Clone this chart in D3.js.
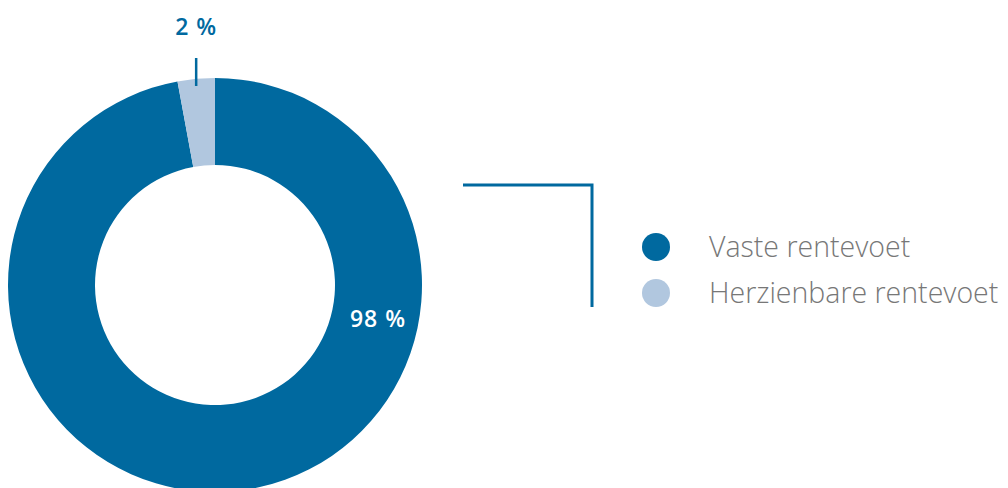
<!DOCTYPE html>
<html>
<head>
<meta charset="utf-8">
<script src="https://cdn.jsdelivr.net/npm/d3@7"></script>
<style>
  body { margin: 0; background: #fff; }
  text { font-family: "Open Sans", Lato, sans-serif; }
</style>
</head>
<body>
<script>
// Chart data.
const categories = ['Vaste rentevoet', 'Herzienbare rentevoet']
const shares = [97.1, 2.9]
const labels = ['98 %', '2 %']
const colors = ['#00699f', '#b1c7df']

const width = 1008
const height = 488
const cx = 215
const cy = 285
const outerR = 207
const innerR = 120

const svg = d3.select('body')
  .append('svg')
    .attr('width', width)
    .attr('height', height)

const g = svg.append('g')
    .attr('transform', `translate(${cx}, ${cy})`)

const pie = d3.pie().sort(null).value(d => d)
const arcs = pie(shares)
const arc = d3.arc().innerRadius(innerR).outerRadius(outerR)

// Draw slices.
g.selectAll('path.slice')
  .data(arcs)
  .enter().append('path')
    .attr('class', 'slice')
    .attr('d', arc)
    .attr('fill', (d, i) => colors[i])

// Label of the big slice, inside the ring on the right.
g.append('text')
    .attr('x', 163)
    .attr('y', 42)
    .attr('text-anchor', 'middle')
    .attr('fill', '#fff')
    .attr('font-weight', 600)
    .attr('font-size', 23)
    .attr('letter-spacing', 1)
    .text(labels[0])

// Label and vertical leader line of the small slice.
const small = arcs[1]
const mid = (small.startAngle + small.endAngle) / 2
const lx = Math.sin(mid) * outerR
g.append('line')
    .attr('x1', lx)
    .attr('y1', -outerR + 8)
    .attr('x2', lx)
    .attr('y2', -outerR - 20)
    .attr('stroke', colors[0])
    .attr('stroke-width', 2.5)
g.append('text')
    .attr('x', lx)
    .attr('y', 35 - cy)
    .attr('text-anchor', 'middle')
    .attr('fill', colors[0])
    .attr('font-weight', 600)
    .attr('font-size', 23)
    .attr('letter-spacing', 1)
    .text(labels[1])

// Bracket line between chart and legend.
svg.append('path')
    .attr('d', 'M463,185 H592 V307')
    .attr('fill', 'none')
    .attr('stroke', colors[0])
    .attr('stroke-width', 3)

// Legend.
const legend = svg.selectAll('g.legend')
  .data(categories)
  .enter().append('g')
    .attr('class', 'legend')
    .attr('transform', (d, i) => `translate(656, ${247 + i * 46})`)

legend.append('circle')
    .attr('r', 14)
    .attr('fill', (d, i) => colors[i])

legend.append('text')
    .attr('x', 53)
    .attr('y', 10)
    .attr('fill', '#777')
    .attr('font-weight', 300)
    .attr('font-size', 28.5)
    .text(d => d)
</script>
</body>
</html>
